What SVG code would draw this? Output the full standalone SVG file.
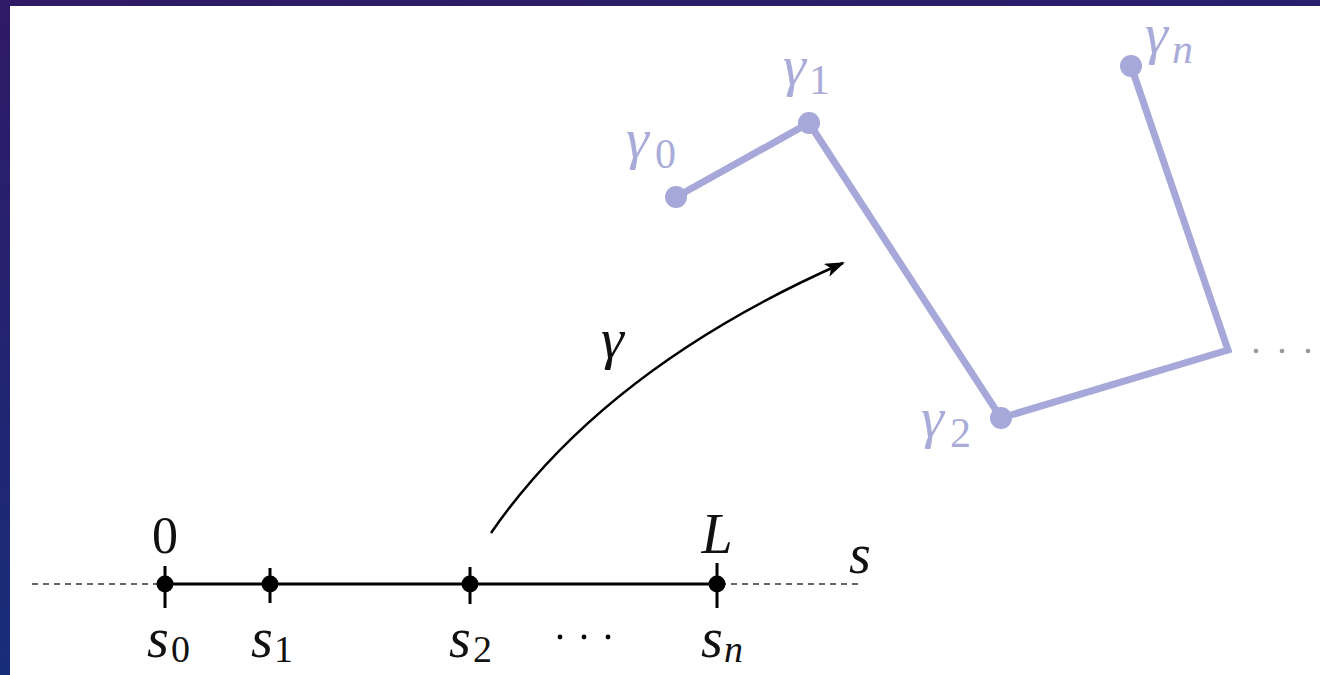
<svg xmlns="http://www.w3.org/2000/svg" width="1320" height="675" viewBox="0 0 1320 675">
<defs>
<linearGradient id="frame" x1="0" y1="0" x2="0.3" y2="1">
<stop offset="0" stop-color="#2f1a66"/>
<stop offset="1" stop-color="#162f7c"/>
</linearGradient>
<marker id="arrow" viewBox="0 0 20 14" refX="18" refY="7" markerWidth="20" markerHeight="14" markerUnits="userSpaceOnUse" orient="auto">
<path d="M0,0 L20,7 L0,14 L5,7 Z" fill="#000"/>
</marker>
</defs>
<style>
.math{font-family:"Liberation Serif","DejaVu Serif",serif;font-style:italic;font-size:56px;fill:#111}
.num{font-family:"Liberation Serif","DejaVu Serif",serif;font-size:52px;fill:#111}
.sub{font-family:"Liberation Serif","DejaVu Serif",serif;font-size:38px;fill:#111}
.subi{font-family:"Liberation Serif","DejaVu Serif",serif;font-style:italic;font-size:38px;fill:#111}
.gl{font-family:"Liberation Serif","DejaVu Serif",serif;font-style:italic;font-size:58px;fill:#a9acd9}
.gs{font-family:"Liberation Serif","DejaVu Serif",serif;font-size:42px;fill:#a9acd9}
.gsi{font-family:"Liberation Serif","DejaVu Serif",serif;font-style:italic;font-size:42px;fill:#a9acd9}
.tick{stroke:#000;stroke-width:3}
.dot{fill:#000}
.pdot{fill:#a5a8d8}
.dash{stroke:#333;stroke-width:1.6;stroke-dasharray:6 5;fill:none}
</style>
<rect x="0" y="0" width="1320" height="675" fill="url(#frame)"/>
<rect x="10" y="6" width="1310" height="669" fill="#fff"/>

<g id="connectors">
<line class="dash" x1="32" y1="584" x2="163" y2="584"/>
<line class="dash" x1="720" y1="584" x2="858" y2="584"/>
<line x1="165" y1="584" x2="717" y2="584" stroke="#000" stroke-width="3"/>
<path d="M491,533 Q605,368 843,263" fill="none" stroke="#000" stroke-width="2.5" marker-end="url(#arrow)"/>
<polyline points="676,197 809,123 1001,418 1228,350 1131,66" fill="none" stroke="#a5a8d8" stroke-width="7" stroke-linejoin="miter"/>
</g>

<g id="s0">
<line class="tick" x1="165" y1="566" x2="165" y2="608"/>
<circle class="dot" cx="165" cy="584" r="8.5"/>
<text class="num" x="165" y="553" text-anchor="middle">0</text>
<text class="math" x="147" y="657">s</text><text class="sub" x="171" y="662">0</text>
</g>
<g id="s1">
<line class="tick" x1="270" y1="568" x2="270" y2="603"/>
<circle class="dot" cx="270" cy="584" r="8.5"/>
<text class="math" x="251" y="657">s</text><text class="sub" x="274" y="662">1</text>
</g>
<g id="s2">
<line class="tick" x1="470" y1="567" x2="470" y2="604"/>
<circle class="dot" cx="470" cy="584" r="8.5"/>
<text class="math" x="449" y="657">s</text><text class="sub" x="473" y="662">2</text>
</g>
<g id="dots-axis">
<circle class="dot" cx="560" cy="637" r="2.4"/>
<circle class="dot" cx="584" cy="637" r="2.4"/>
<circle class="dot" cx="608" cy="637" r="2.4"/>
</g>
<g id="sn">
<line class="tick" x1="717" y1="563" x2="717" y2="608"/>
<circle class="dot" cx="717" cy="584" r="8.5"/>
<text class="math" x="717" y="553" text-anchor="middle">L</text>
<text class="math" x="701" y="657">s</text><text class="subi" x="724" y="662">n</text>
</g>
<g id="s-label">
<text class="math" x="849" y="573">s</text>
</g>
<g id="gamma-label">
<text class="math" x="601" y="358" style="font-size:58px">γ</text>
</g>

<g id="g0">
<circle class="pdot" cx="676" cy="197" r="11"/>
<text class="gl" x="626" y="158">γ</text><text class="gs" x="655" y="168">0</text>
</g>
<g id="g1">
<circle class="pdot" cx="809" cy="123" r="11"/>
<text class="gl" x="783" y="85">γ</text><text class="gs" x="809" y="94">1</text>
</g>
<g id="g2">
<circle class="pdot" cx="1001" cy="418" r="11"/>
<text class="gl" x="921" y="437">γ</text><text class="gs" x="950" y="447">2</text>
</g>
<g id="gn">
<circle class="pdot" cx="1131" cy="66" r="11"/>
<text class="gl" x="1145" y="53">γ</text><text class="gsi" x="1172" y="63">n</text>
</g>
<g id="dots-right">
<circle cx="1256" cy="351" r="2.3" fill="#999"/>
<circle cx="1282" cy="351" r="2.3" fill="#999"/>
<circle cx="1308" cy="351" r="2.3" fill="#999"/>
</g>
</svg>
